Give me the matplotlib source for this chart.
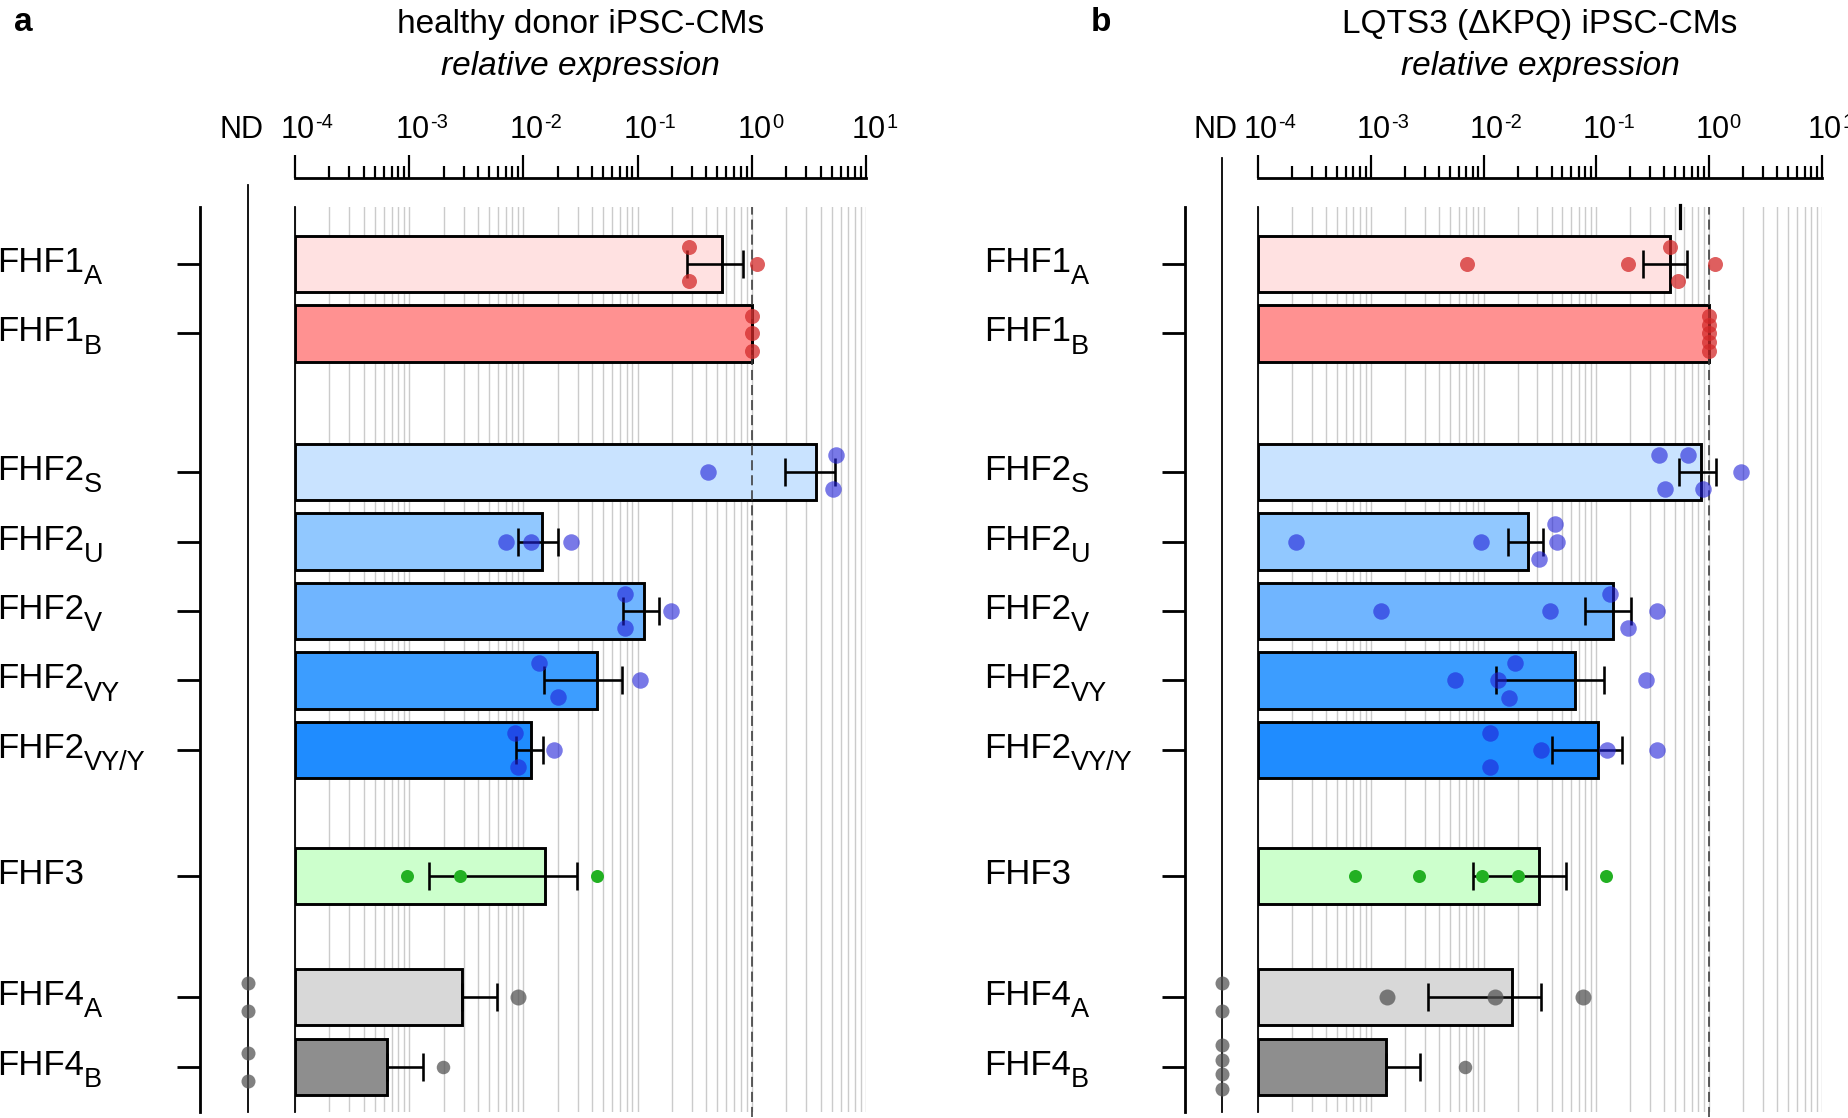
import numpy as np
import matplotlib
matplotlib.use("Agg")
import matplotlib.pyplot as plt
from matplotlib import transforms
from matplotlib.ticker import FixedLocator, LogLocator, NullFormatter, NullLocator

plt.rcParams["font.family"] = ["Liberation Sans", "DejaVu Sans"]

# ---------------- data ----------------
cat_base = ["FHF1", "FHF1", "FHF2", "FHF2", "FHF2", "FHF2", "FHF2", "FHF3", "FHF4", "FHF4"]
cat_sub = ["A", "B", "S", "U", "V", "VY", "VY/Y", "", "A", "B"]

xtick_values = [1e-4, 1e-3, 1e-2, 1e-1, 1e0, 1e1]
xtick_base = ["10", "10", "10", "10", "10", "10"]
xtick_exp = ["-4", "-3", "-2", "-1", "0", "1"]

# panel a: healthy donor iPSC-CMs
mean_a = [0.55, 1.0, 3.65, 0.0145, 0.114, 0.0443, 0.0117, 0.0155, 0.0029, 0.00064]
sem_a = [0.28, 0.0, 1.68, 0.0055, 0.040, 0.029, 0.0031, 0.0140, 0.0030, 0.00069]
dots_a = [[0.28, 0.28, 1.12],
          [1.0, 1.0, 1.0],
          [0.41, 5.5, 5.13],
          [0.0070, 0.0117, 0.0259],
          [0.0776, 0.078, 0.195],
          [0.0136, 0.020, 0.104],
          [0.0085, 0.0089, 0.0187],
          [0.00095, 0.00279, 0.0443],
          [0.0090],
          [0.00199]]
nd_a = [0, 0, 0, 0, 0, 0, 0, 0, 2, 2]

# panel b: LQTS3 (dKPQ) iPSC-CMs
mean_b = [0.45, 1.0, 0.84, 0.025, 0.14, 0.065, 0.104, 0.031, 0.0178, 0.00135]
sem_b = [0.19, 0.0, 0.30, 0.0086, 0.061, 0.052, 0.064, 0.023, 0.0146, 0.0014]
dots_b = [[0.00714, 0.19, 0.447, 0.525, 1.12],
          [1.0, 1.0, 1.0, 1.0, 1.0],
          [0.357, 0.409, 0.648, 0.873, 1.93],
          [0.000219, 0.0095, 0.0433, 0.0449, 0.031],
          [0.00123, 0.0387, 0.132, 0.192, 0.348],
          [0.00558, 0.0191, 0.01346, 0.0168, 0.275],
          [0.0115, 0.0115, 0.0325, 0.124, 0.348],
          [0.00073, 0.00268, 0.00975, 0.020, 0.121],
          [0.00139, 0.01265, 0.0766],
          [0.0068]]
nd_b = [0, 0, 0, 0, 0, 0, 0, 0, 2, 4]
stray_mark_b = 0.55   # short stray vertical mark above FHF1A in panel b

# ---------------- styles ----------------
bar_colors = ["#ffe1e1", "#ff9191", "#c9e3ff", "#91c8ff", "#70b5ff",
              "#3c9dff", "#1f8cff", "#ccffcc", "#d8d8d8", "#8e8e8e"]
RED, BLUE, GREEN, GREY = "#d42a2a", "#2020d8", "#22b022", "#555555"
dot_colors = [RED, RED, BLUE, BLUE, BLUE, BLUE, BLUE, GREEN, GREY, GREY]
dot_alpha = [0.75, 0.75, 0.6, 0.6, 0.6, 0.6, 0.6, 1.0, 0.75, 0.75]
dot_diam_px = [15, 15, 16.5, 16.5, 16.5, 16.5, 16.5, 13, 16, 13.5]
ND_DIAM_PX = 14

W, H = 1849, 1118
fig = plt.figure(figsize=(W / 100, H / 100), dpi=100)


def pt(v):
    return v * 72.0 / 100.0


def shift(dx_px, dy_px):
    return transforms.ScaledTranslation(dx_px / 100.0, dy_px / 100.0, fig.dpi_scale_trans)


positions = np.array([0, 1, 3, 4, 5, 6, 7, 8.82, 10.56, 11.57])
BAR_H = 0.81
UNIT = 69.4
Y_TOP, Y_BOT = 207, 1112
FIRST = 264
ylim_top = (Y_TOP - FIRST) / UNIT
ylim_bot = (Y_BOT - FIRST) / UNIT


def swarm_offsets(vals, thr=0.17, pair_gap=0.49, span=0.51):
    vals = np.asarray(vals, float)
    n = len(vals)
    off = np.zeros(n)
    if n < 2:
        return off
    lv = np.log10(vals)
    order = np.argsort(lv, kind="stable")
    clusters, cur = [], [order[0]]
    for a, b in zip(order[:-1], order[1:]):
        if abs(lv[b] - lv[a]) < thr:
            cur.append(b)
        else:
            clusters.append(cur)
            cur = [b]
    clusters.append(cur)
    for c in clusters:
        c = sorted(c)
        m = len(c)
        if m == 1:
            continue
        gap = min(pair_gap, span / (m - 1))
        for k, idx in enumerate(c):
            off[idx] = (k - (m - 1) / 2) * gap
    return off


def nd_offsets(n, pair_gap=0.4, span=0.63):
    if n <= 1:
        return np.zeros(n)
    gap = min(pair_gap, span / (n - 1))
    return (np.arange(n) - (n - 1) / 2) * gap


def draw_panel(L, R, spine_x, nd_x, label_x, nd_top, letter, letter_x, title,
               means, sems, dots, nds, stray=None):
    ax = fig.add_axes([L / W, 1 - Y_BOT / H, (R - L) / W, (Y_BOT - Y_TOP) / H])
    ax.set_xscale("log")
    ax.set_xlim(1e-4, 1e1)
    ax.set_ylim(ylim_bot, ylim_top)
    ax.patch.set_alpha(0)
    for s in ["right", "bottom"]:
        ax.spines[s].set_visible(False)
    ax.spines["top"].set_position(("outward", pt(Y_TOP - 178)))
    ax.spines["top"].set_linewidth(pt(2.8))
    ax.spines["left"].set_position(("outward", pt(L - spine_x)))
    ax.spines["left"].set_linewidth(pt(2.8))

    ax.xaxis.set_ticks_position("top")
    ax.xaxis.set_major_locator(FixedLocator(xtick_values))
    ax.xaxis.set_major_formatter(NullFormatter())
    ax.xaxis.set_minor_locator(LogLocator(base=10, subs=np.arange(2, 10), numticks=100))
    ax.xaxis.set_minor_formatter(NullFormatter())
    ax.tick_params(axis="x", which="major", length=pt(23), width=pt(2.2), color="black")
    ax.tick_params(axis="x", which="minor", length=pt(12), width=pt(2.2), color="black")
    ax.grid(True, which="both", axis="x", color="#cbcbcb", lw=pt(1.4))
    ax.set_axisbelow(True)

    ax.yaxis.set_major_locator(FixedLocator(positions))
    ax.yaxis.set_major_formatter(NullFormatter())
    ax.yaxis.set_minor_locator(NullLocator())
    ax.tick_params(axis="y", which="major", length=pt(23), width=pt(2.8), color="black")

    m = np.array(means)
    s = np.array(sems)
    ax.barh(positions, m - 1e-4, left=1e-4, height=BAR_H, color=bar_colors,
            edgecolor="black", linewidth=pt(2.9), zorder=2)

    lo = np.where(m - s > 0, s, 0.0)
    ax.errorbar(m, positions, xerr=[lo, s], fmt="none", ecolor="black",
                elinewidth=pt(2.6), capsize=pt(14), capthick=pt(2.6), zorder=4)

    for i, vals in enumerate(dots):
        off = swarm_offsets(vals)
        ax.plot(vals, positions[i] + off, "o", ms=pt(dot_diam_px[i]),
                color=dot_colors[i], alpha=dot_alpha[i], mec="none",
                zorder=5, clip_on=False)

    tr_ay = transforms.blended_transform_factory(ax.transAxes, ax.transData)
    nd_frac = (nd_x - L) / (R - L)
    for i, n in enumerate(nds):
        if n:
            ax.plot([nd_frac] * n, positions[i] + nd_offsets(n), "o", transform=tr_ay,
                    ms=pt(ND_DIAM_PX), color=GREY, alpha=0.75, mec="none",
                    zorder=5, clip_on=False)

    # ND line
    ax.plot([nd_frac, nd_frac], [0, (Y_BOT - nd_top) / (Y_BOT - Y_TOP)],
            transform=ax.transAxes, color="black", lw=pt(1.8), clip_on=False, zorder=1)

    tr_xa = transforms.blended_transform_factory(ax.transData, ax.transAxes)
    # axis origin line at 10^-4
    ax.plot([1e-4, 1e-4], [0, 1], transform=tr_xa, color="black", lw=pt(1.8),
            clip_on=False, zorder=6)
    # reference line at 10^0
    ax.plot([1, 1], [-0.006, 1], transform=tr_xa, color="#3a3a3a", lw=pt(1.6),
            ls=(0, (6.3, 3.1)), clip_on=False, zorder=3)
    if stray is not None:
        ax.plot([stray, stray], [(Y_BOT - 228) / (Y_BOT - Y_TOP), (Y_BOT - 205) / (Y_BOT - Y_TOP)],
                transform=tr_xa, color="black", lw=pt(3.2), clip_on=False, zorder=6)

    # tick labels: "10" centred on the tick, exponent attached as superscript
    ylab = 1 + (Y_TOP - 138) / (Y_BOT - Y_TOP)
    for v, base, ex in zip(xtick_values, xtick_base, xtick_exp):
        t = ax.text(v, ylab, base, transform=tr_xa + shift(3, 0),
                    ha="center", va="baseline", fontsize=22, clip_on=False)
        ax.annotate(ex, xy=(1, 1), xycoords=t, xytext=(0.3, 1.5), textcoords="offset points",
                    ha="left", va="top", fontsize=14.5, annotation_clip=False)
    ax.text(nd_frac, ylab, "ND", transform=ax.transAxes + shift(-6, 0),
            ha="center", va="baseline", fontsize=22, clip_on=False)

    # category labels with manual subscripts
    tr_fy = transforms.blended_transform_factory(fig.transFigure, ax.transData)
    for i, (base, sub) in enumerate(zip(cat_base, cat_sub)):
        t = ax.text(label_x / W, positions[i], base, transform=tr_fy + shift(0, -8),
                    ha="left", va="baseline", fontsize=25, clip_on=False)
        if sub:
            ax.annotate(sub, xy=(1, 0), xycoords=t, xytext=(0, -3.8), textcoords="offset points",
                        ha="left", va="baseline", fontsize=19.5, annotation_clip=False)

    cx = (L + R) / 2 / W
    fig.text(cx, 1 - 24 / H, title, ha="center", va="center", fontsize=24)
    fig.text(cx, 1 - 67 / H, "relative expression", ha="center", va="center",
             fontsize=24, style="italic")
    fig.text(letter_x / W, 1 - 31 / H, letter, ha="left", va="baseline",
             fontsize=24, weight="bold")
    return ax


draw_panel(295, 866, 200, 248, -3, 185, "a", 14, "healthy donor iPSC-CMs",
           mean_a, sem_a, dots_a, nd_a)
draw_panel(1258, 1822, 1185, 1222, 984, 158, "b", 1091, "LQTS3 (\u0394KPQ) iPSC-CMs",
           mean_b, sem_b, dots_b, nd_b, stray=stray_mark_b)

fig.savefig("out.png", dpi=100)
